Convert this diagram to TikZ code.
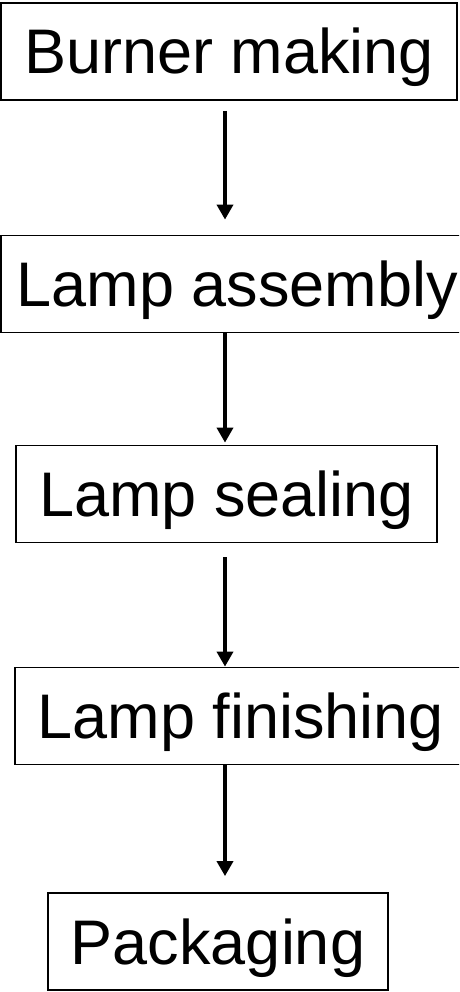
\documentclass[tikz,border=0pt]{standalone}
\usepackage{fontspec}
\setmainfont{Liberation Sans}
\usepackage{tikz}
\usetikzlibrary{arrows.meta}
\tikzset{
  stage/.style ={rectangle, draw=black, line width=1.8pt, fill=white,
                 font=\fontsize{63}{70}\selectfont, text height=45pt, text depth=0pt,
                 minimum height=97pt, inner xsep=23pt, inner ysep=0pt},
  ar/.style    ={-{Triangle[width=16pt,length=15pt]}, draw=black, line width=3.6pt},
}
\begin{document}
\begin{tikzpicture}[x=1pt, y=-1pt]
\useasboundingbox (0,0) rectangle (459,992);
\clip (0,0) rectangle (459,992);
% process stages, top to bottom
\node[stage] (burner)   at (229,51.5)  {Burner making};
\node[stage, inner xsep=16pt] (assembly) at (237.5,284) {Lamp assembly};
\node[stage] (sealing)  at (226.5,494) {Lamp sealing};
\node[stage] (finish)   at (241,716)   {Lamp finishing};
\node[stage] (pack)     at (218,941.5) {Packaging};
% arrows all run down one column
\coordinate (col) at (225,0);
\draw[ar, shorten <=10pt, shorten >=15pt] (burner.south -| col) -- (assembly.north -| col);
\draw[ar, shorten >=2pt] (assembly.south -| col) -- (sealing.north -| col);
\draw[ar, shorten <=14pt] (sealing.south -| col) -- (finish.north -| col);
\draw[ar, shorten >=16pt] (finish.south -| col) -- (pack.north -| col);
\end{tikzpicture}
\end{document}
